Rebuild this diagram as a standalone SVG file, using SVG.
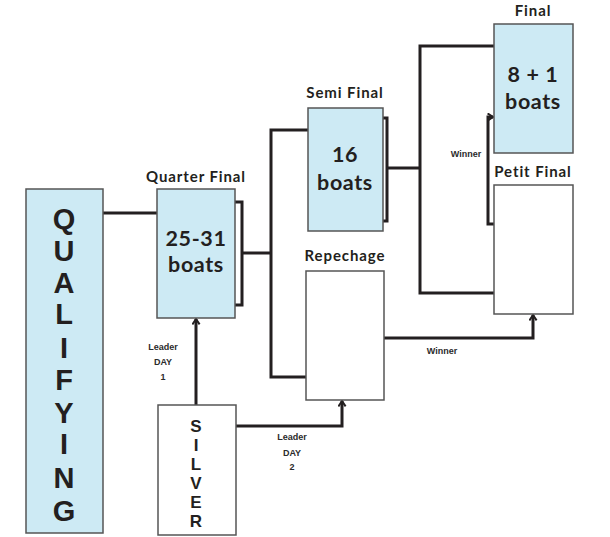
<svg xmlns="http://www.w3.org/2000/svg" width="610" height="537" viewBox="0 0 610 537">
<style>
.box{stroke:#555;stroke-width:1.5}
.blue{fill:#cdeaf4}
.white{fill:#fff}
.ln{fill:none;stroke:#231f20;stroke-width:3;stroke-linejoin:miter}
.big{font-family:Lato,"Open Sans","Liberation Sans",sans-serif;font-weight:bold;font-size:21.5px;letter-spacing:0.6px;fill:#231f20;text-anchor:middle}
.ttl{font-family:Lato,"Open Sans","Liberation Sans",sans-serif;font-weight:bold;font-size:15px;letter-spacing:0.9px;fill:#231f20;text-anchor:middle}
.vert{font-family:"Liberation Sans",Arial,sans-serif;font-weight:bold;fill:#231f20;text-anchor:middle}
.sm{font-family:"Liberation Sans",Arial,sans-serif;font-weight:bold;font-size:9px;fill:#2b2b2b;text-anchor:middle}
</style>
<defs>
<marker id="ah" viewBox="0 0 10 10" refX="8" refY="5" markerWidth="3" markerHeight="3" orient="auto" markerUnits="strokeWidth">
<path d="M2,1 L8,5 L2,9" fill="none" stroke="#231f20" stroke-width="2.2"/>
</marker>
</defs>
<g id="connectors">
<path class="ln" d="M103,213 H157"/>
<path class="ln" d="M235,202 H242 V305 H235"/>
<path class="ln" d="M242,253 H271"/>
<path class="ln" d="M308,130 H271 V377 H306"/>
<path class="ln" d="M383,118 H387 V221 H383"/>
<path class="ln" d="M387,168 H420"/>
<path class="ln" d="M494,46 H420 V293 H494"/>
<path class="ln" d="M494,224 H488 V117 H493" marker-end="url(#ah)"/>
<path class="ln" d="M384,338 H533 V315" marker-end="url(#ah)"/>
<path class="ln" d="M196,405 V319" marker-end="url(#ah)"/>
<path class="ln" d="M236,426 H342 V401" marker-end="url(#ah)"/>
</g>
<g id="qualifying">
<rect class="box blue" x="26" y="189" width="77" height="344"/>
<g class="vert" font-size="29">
<text x="64" y="229">Q</text>
<text x="64" y="261">U</text>
<text x="64" y="293">A</text>
<text x="64" y="324">L</text>
<text x="64" y="358">I</text>
<text x="64" y="390">F</text>
<text x="64" y="423">Y</text>
<text x="64" y="454">I</text>
<text x="64" y="488">N</text>
<text x="64" y="521">G</text>
</g>
</g>
<g id="quarter-final">
<rect class="box blue" x="157" y="189" width="78" height="129"/>
<text class="ttl" x="196" y="182">Quarter Final</text>
<text class="big" x="196" y="246">25-31</text>
<text class="big" x="196" y="272">boats</text>
</g>
<g id="semi-final">
<rect class="box blue" x="308" y="108" width="75" height="123"/>
<text class="ttl" x="345" y="98">Semi Final</text>
<text class="big" x="345" y="162">16</text>
<text class="big" x="345" y="190">boats</text>
</g>
<g id="repechage">
<rect class="box white" x="306" y="271" width="78" height="129"/>
<text class="ttl" x="345" y="261">Repechage</text>
</g>
<g id="final">
<rect class="box blue" x="494" y="24" width="79" height="129"/>
<text class="ttl" x="533" y="16">Final</text>
<text class="big" x="533" y="82">8 + 1</text>
<text class="big" x="533" y="109">boats</text>
</g>
<g id="petit-final">
<rect class="box white" x="494" y="185" width="79" height="129"/>
<text class="ttl" x="533" y="177">Petit Final</text>
</g>
<g id="silver">
<rect class="box white" x="158" y="405" width="78" height="130"/>
<g class="vert" font-size="17">
<text x="196" y="432">S</text>
<text x="196" y="451">I</text>
<text x="196" y="470">L</text>
<text x="196" y="489">V</text>
<text x="196" y="508">E</text>
<text x="196" y="527">R</text>
</g>
</g>
<g id="labels">
<text class="sm" x="466" y="157">Winner</text>
<text class="sm" x="442" y="354">Winner</text>
<text class="sm" x="163" y="350">Leader</text>
<text class="sm" x="163" y="365">DAY</text>
<text class="sm" x="163" y="380">1</text>
<text class="sm" x="292" y="440">Leader</text>
<text class="sm" x="292" y="456">DAY</text>
<text class="sm" x="292" y="470">2</text>
</g>
</svg>
